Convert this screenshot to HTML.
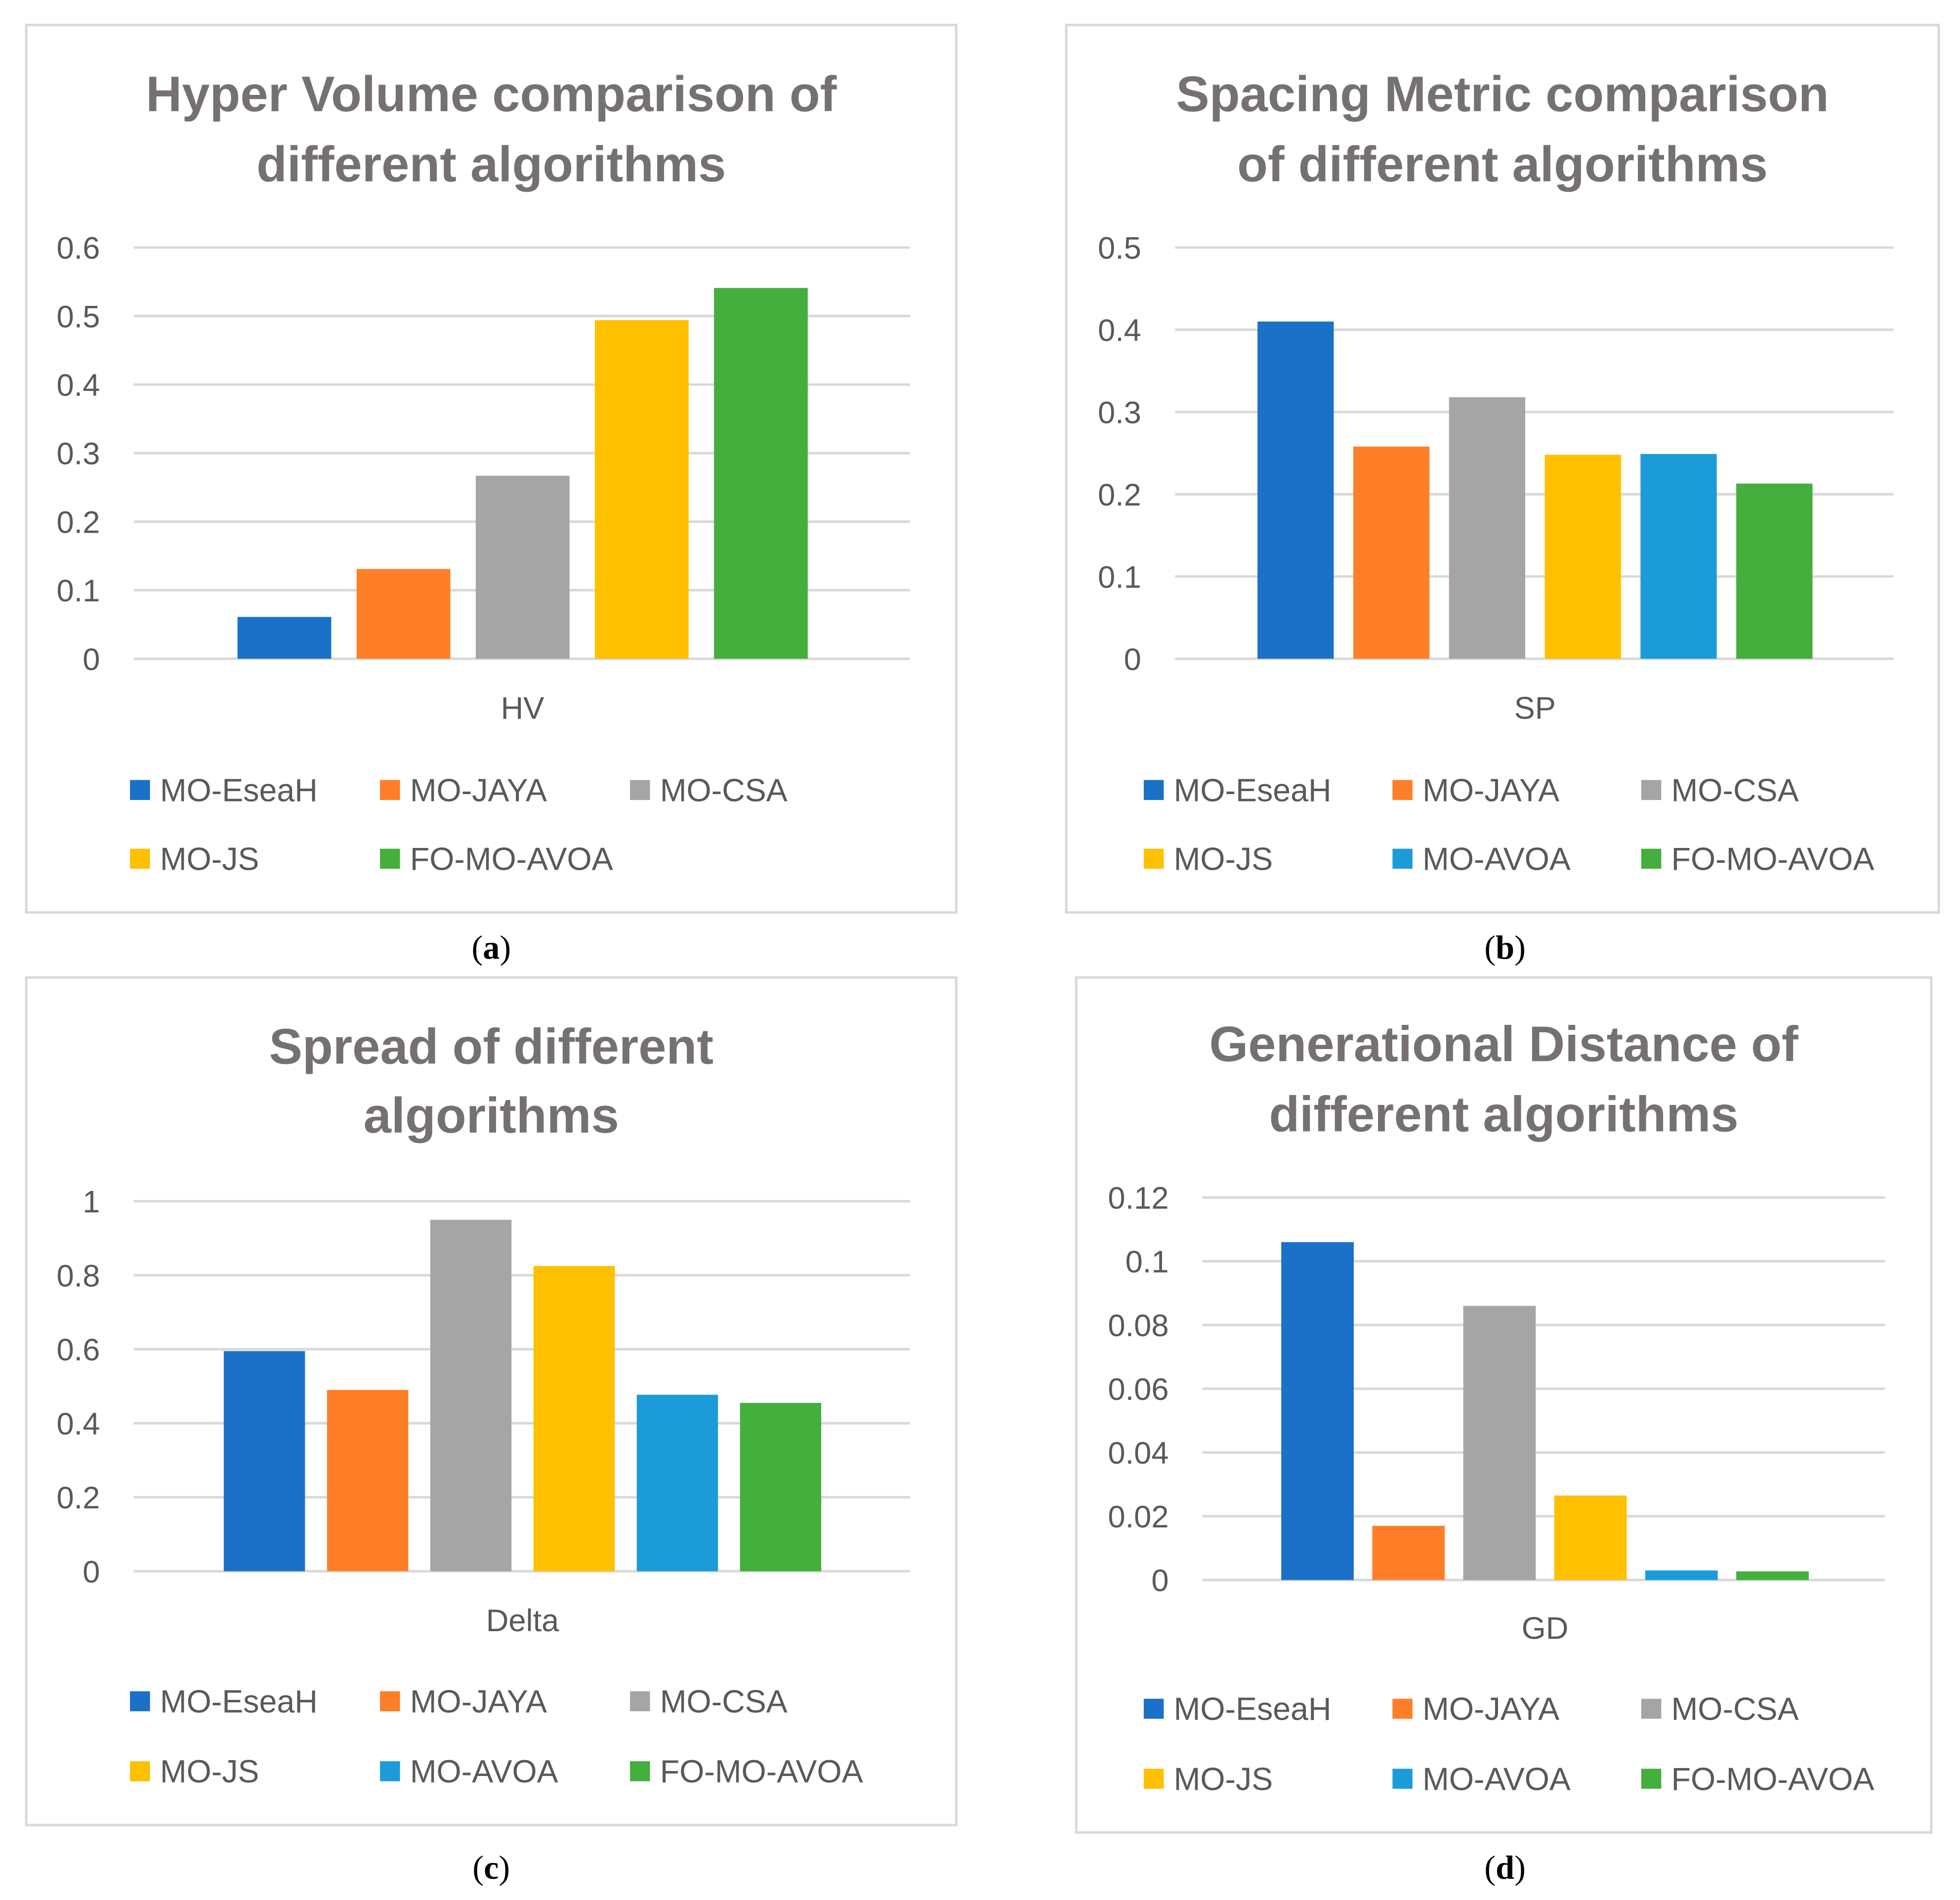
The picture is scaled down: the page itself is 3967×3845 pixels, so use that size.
<!DOCTYPE html>
<html><head><meta charset="utf-8">
<style>
html,body{margin:0;padding:0;background:#fff;}
svg{display:block;}
</style></head>
<body>
<svg id="root" width="3967" height="3845" viewBox="0 0 1568 1520" preserveAspectRatio="none" xmlns="http://www.w3.org/2000/svg" font-family="Liberation Sans, sans-serif"></svg>
<script>
// ---- data ----
const seriesNames = ["MO-EseaH","MO-JAYA","MO-CSA","MO-JS","MO-AVOA","FO-MO-AVOA"];
const seriesColors = ["#1A71C7","#FE7F27","#A5A5A5","#FFC000","#1B9CD9","#44AF3C"];
const hvSeries = [0,1,2,3,5];
const hvValues = [0.061,0.131,0.267,0.494,0.541];
const hvTicks = ["0","0.1","0.2","0.3","0.4","0.5","0.6"];
const spSeries = [0,1,2,3,4,5];
const spValues = [0.41,0.258,0.318,0.248,0.249,0.213];
const spTicks = ["0","0.1","0.2","0.3","0.4","0.5"];
const deltaSeries = [0,1,2,3,4,5];
const deltaValues = [0.595,0.49,0.95,0.825,0.477,0.455];
const deltaTicks = ["0","0.2","0.4","0.6","0.8","1"];
const gdSeries = [0,1,2,3,4,5];
const gdValues = [0.106,0.017,0.086,0.0265,0.003,0.0027];
const gdTicks = ["0","0.02","0.04","0.06","0.08","0.1","0.12"];

const NS="http://www.w3.org/2000/svg";
const root=document.getElementById('root');
function mk(tag,attrs,parent){const e=document.createElementNS(NS,tag);for(const k in attrs)e.setAttribute(k,attrs[k]);(parent||root).appendChild(e);return e;}

function panel(cfg){
  const g=mk('g',{});
  
  
  const box=mk('rect',{x:cfg.box[0],y:cfg.box[1],width:cfg.box[2]-cfg.box[0],height:cfg.box[3]-cfg.box[1],fill:'#fff',stroke:'#d9d9d9','stroke-width':2},g);
  
  
  cfg.title.forEach((t,i)=>{
    const tt=mk('text',{x:cfg.cx,y:cfg.titleY[i],'text-anchor':'middle','font-size':40,'font-weight':'bold',fill:'#767171'},g);
    tt.textContent=t;
    
    
  });
  const ticks=cfg.ticks, maxV=parseFloat(ticks[ticks.length-1]);
  const y=v=>cfg.y0-(v/maxV)*(cfg.y0-cfg.yTop);
  ticks.forEach(t=>{
    const v=parseFloat(t);
    const l=mk('line',{x1:cfg.gx[0],x2:cfg.gx[1],y1:y(v),y2:y(v),stroke:'#d9d9d9','stroke-width':2},g);
    
    
    const tx=mk('text',{x:cfg.labelX,y:y(v)+9,'text-anchor':'end','font-size':25,fill:'#595959'},g);
    tx.textContent=t;
    
    
  });
  cfg.values.forEach((v,i)=>{
    const x=cfg.barX0+i*cfg.barStep;
    const r=mk('rect',{x:x,y:y(v),width:cfg.barW,height:cfg.y0-y(v),fill:seriesColors[cfg.series[i]]},g);
    
    
  });
  const xl=mk('text',{x:cfg.xLabel[0],y:cfg.xLabel[1]+9,'text-anchor':'middle','font-size':25,fill:'#595959'},g);
  xl.textContent=cfg.cat;
  
  
  cfg.series.forEach((s,i)=>{
    const col=i%3,row=Math.floor(i/3);
    const mx=cfg.legX[col], my=cfg.legY[row];
    const sq=mk('rect',{x:mx,y:my-8,width:16,height:16,fill:seriesColors[s]},g);
    
    
    const lt=mk('text',{x:mx+24,y:my+9,'font-size':25.5,fill:'#595959'},g);
    lt.textContent=seriesNames[s];
    
    
  });
  const cap=mk('text',{x:cfg.cap[0],y:cfg.cap[1]+9,'text-anchor':'middle','font-size':27,fill:'#000','font-family':'Liberation Serif, serif'},g);
  cap.innerHTML='(<tspan font-weight="bold">'+cfg.capL+'</tspan>)';
  
  
}

panel({name:'hv',box:[21,20,765,730],cx:393,titleY:[89,145],title:["Hyper Volume comparison of","different algorithms"],
  ticks:hvTicks,y0:527,yTop:198,gx:[107,728],labelX:80,values:hvValues,series:hvSeries,barX0:190,barStep:95.3,barW:75,
  cat:'HV',xLabel:[418,566],legX:[104,304,504],legY:[632,687],cap:[393,758],capL:'a'});
panel({name:'sp',box:[853,20,1551,730],cx:1202,titleY:[89,145],title:["Spacing Metric comparison","of different algorithms"],
  ticks:spTicks,y0:527,yTop:198,gx:[940,1515],labelX:913,values:spValues,series:spSeries,barX0:1006,barStep:76.6,barW:61,
  cat:'SP',xLabel:[1228,566],legX:[915,1114,1313],legY:[632,687],cap:[1204,758],capL:'b'});
panel({name:'delta',box:[21,782,765,1460],cx:393,titleY:[851,906],title:["Spread of different","algorithms"],
  ticks:deltaTicks,y0:1257,yTop:961,gx:[107,728],labelX:80,values:deltaValues,series:deltaSeries,barX0:179,barStep:82.6,barW:65,
  cat:'Delta',xLabel:[418,1296],legX:[104,304,504],legY:[1361,1417],cap:[393,1494],capL:'c'});
panel({name:'gd',box:[861,782,1545,1466],cx:1203,titleY:[849,905],title:["Generational Distance of","different algorithms"],
  ticks:gdTicks,y0:1264,yTop:958,gx:[962,1508],labelX:935,values:gdValues,series:gdSeries,barX0:1025,barStep:72.8,barW:58,
  cat:'GD',xLabel:[1236,1302],legX:[915,1114,1313],legY:[1367,1423],cap:[1204,1494],capL:'d'});
</script>
</body></html>
